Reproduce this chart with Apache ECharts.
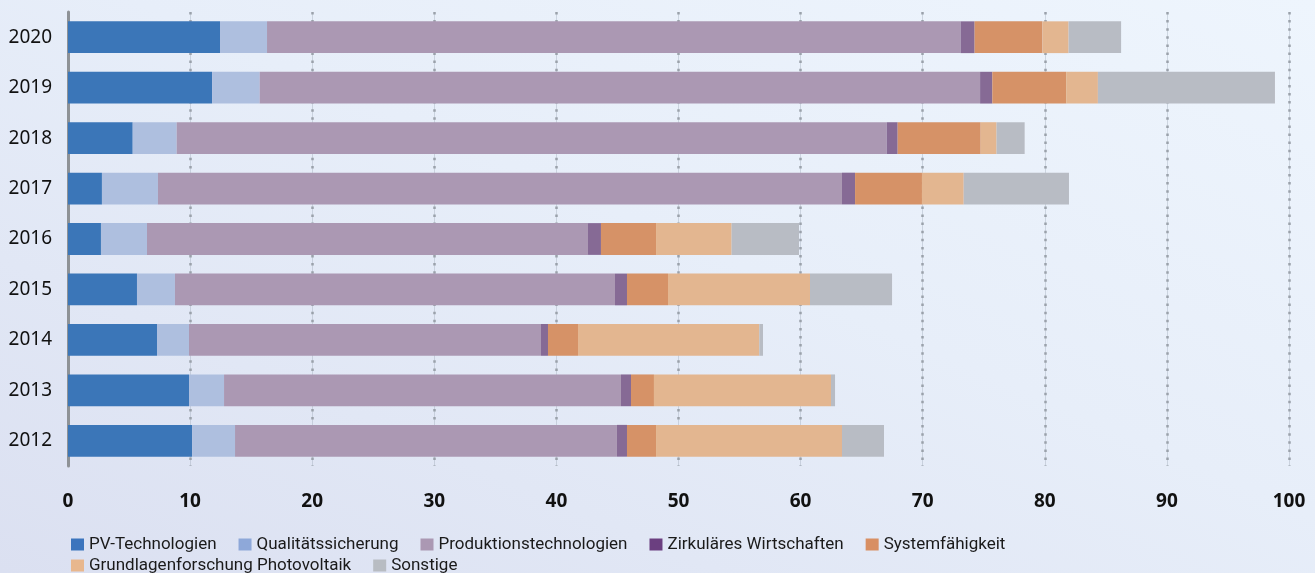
<!DOCTYPE html>
<html>
<head>
<meta charset="utf-8">
<script src="https://cdn.jsdelivr.net/npm/echarts@6/dist/echarts.min.js"></script>
<style>
  html, body {
    margin: 0;
    width: 100%;
    height: 100%;
  }
  body {
    background: linear-gradient(to top right, #dbe0f1, #e7eef9 55%, #eef5fd);
  }
  #chart {
    width: 1315px;
    height: 573px;
  }
</style>
</head>
<body>
<div id="chart"></div>
<script>
const years = ['2012', '2013', '2014', '2015', '2016', '2017', '2018', '2019', '2020']
const xTicks = [0, 10, 20, 30, 40, 50, 60, 70, 80, 90, 100]

const pvTech = [10.16, 9.91, 7.29, 5.65, 2.70, 2.78, 5.30, 11.80, 12.45]
const quali = [3.52, 2.87, 2.62, 3.11, 3.77, 4.59, 3.60, 3.90, 3.85]
const prodTech = [31.28, 32.51, 28.83, 36.04, 36.12, 56.02, 58.15, 59.00, 56.80]
const zirkulaer = [0.82, 0.82, 0.57, 0.98, 1.06, 1.07, 0.90, 1.00, 1.15]
const system = [2.38, 1.88, 2.46, 3.36, 4.51, 5.48, 6.80, 6.05, 5.55]
const grundlagen = [15.23, 14.50, 14.85, 11.63, 6.19, 3.42, 1.30, 2.60, 2.15]
const sonstige = [3.44, 0.33, 0.30, 6.72, 5.52, 8.62, 2.30, 14.50, 4.30]

const names = [
  'PV-Technologien', 'Qualitätssicherung', 'Produktionstechnologien',
  'Zirkuläres Wirtschaften', 'Systemfähigkeit',
  'Grundlagenforschung Photovoltaik', 'Sonstige'
]
const values = [pvTech, quali, prodTech, zirkulaer, system, grundlagen, sonstige]

// bar colours and the (slightly different) legend swatch colours
const barColors = ['#3b76b8', '#aebfdf', '#ab98b3', '#866a95', '#d69267', '#e3b690', '#b8bcc4']
const legendColors = ['#3b74bd', '#8ea8d9', '#ab98b3', '#6b3f80', '#d88f63', '#e8b78e', '#b8bcc2']

const legendItem = (i) => ({ name: names[i], itemStyle: { color: legendColors[i] } })
const legendBase = {
  left: 66,
  icon: 'rect',
  itemWidth: 13,
  itemHeight: 12,
  itemGap: 22,
  textStyle: {
    color: '#1a1a1a',
    fontSize: 17,
    fontFamily: 'Roboto'
  }
}

const myChart = echarts.init(document.getElementById('chart'))

myChart.setOption({
  backgroundColor: 'transparent',
  animation: false,
  legend: [
    { ...legendBase, top: 531, data: [0, 1, 2, 3, 4].map(legendItem) },
    { ...legendBase, top: 552, data: [5, 6].map(legendItem) }
  ],
  grid: {
    left: 68,
    right: 26,
    top: 12,
    bottom: 107
  },
  xAxis: [
    {
      type: 'value',
      min: xTicks[0],
      max: xTicks[xTicks.length - 1],
      interval: 10,
      axisLine: { show: false },
      axisTick: { show: false },
      axisLabel: {
        margin: 26,
        color: '#111',
        fontSize: 19,
        fontWeight: 'bold',
        fontFamily: 'Noto Sans'
      },
      // faint line behind the dots
      splitLine: {
        show: true,
        lineStyle: { color: 'rgba(150,160,175,0.35)', width: 1 }
      }
    },
    {
      type: 'value',
      min: xTicks[0],
      max: xTicks[xTicks.length - 1],
      interval: 10,
      show: true,
      axisLine: { show: false },
      axisTick: { show: false },
      axisLabel: { show: false },
      splitLine: {
        show: true,
        lineStyle: { color: '#9aa1aa', width: 2.5, type: [2.5, 5.6] }
      }
    }
  ],
  yAxis: {
    type: 'category',
    data: years,
    axisLine: {
      show: true,
      lineStyle: { color: '#8e9296', width: 3 }
    },
    axisTick: { show: false },
    axisLabel: {
      margin: 16,
      color: '#111',
      fontSize: 19,
      fontFamily: 'Noto Sans'
    }
  },
  series: names.map((name, i) => ({
    name: name,
    type: 'bar',
    stack: 'total',
    barCategoryGap: '37%',
    data: values[i],
    itemStyle: { color: barColors[i] }
  }))
})
</script>
</body>
</html>
